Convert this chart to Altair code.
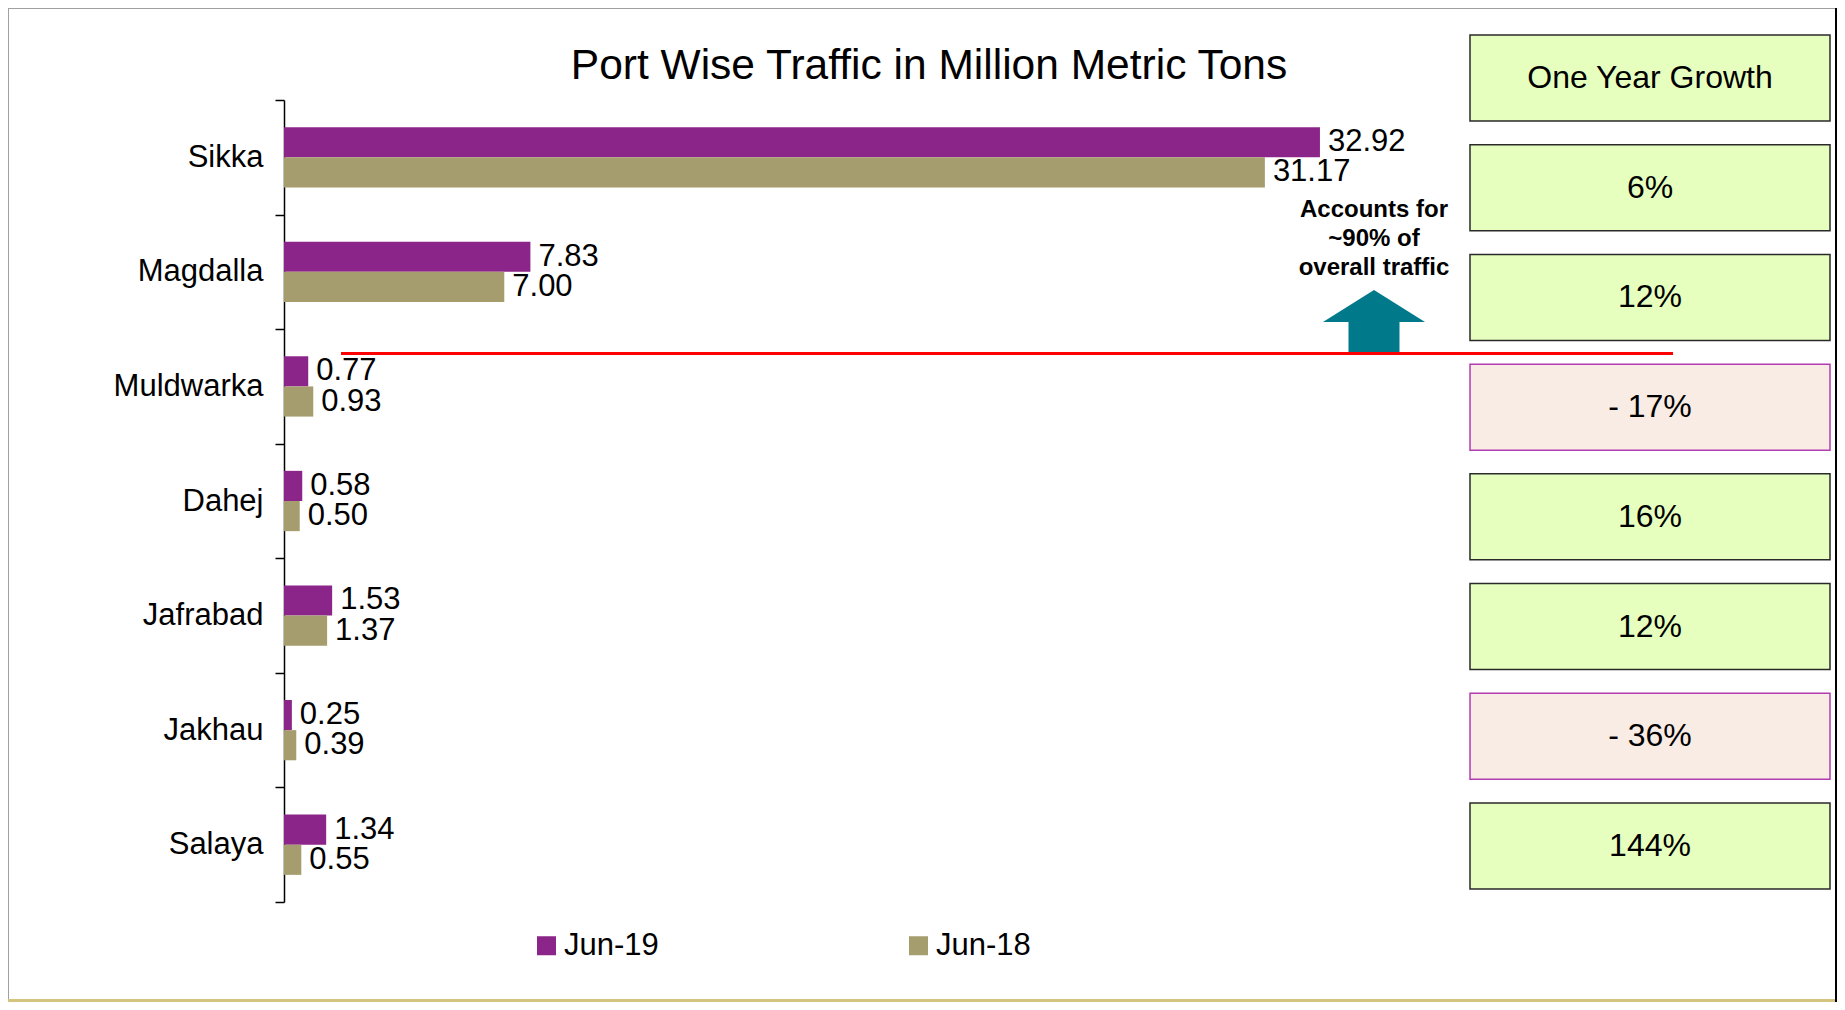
import altair as alt
import pandas as pd

# ---------------- data ----------------
ports = ["Sikka", "Magdalla", "Muldwarka", "Dahej", "Jafrabad", "Jakhau", "Salaya"]
jun19 = [32.92, 7.83, 0.77, 0.58, 1.53, 0.25, 1.34]
jun18 = [31.17, 7.00, 0.93, 0.50, 1.37, 0.39, 0.55]
series = ["Jun-19", "Jun-18"]
series_colors = ["#8C2589", "#A69D6E"]

growth_header = "One Year Growth"
growth_labels = ["6%", "12%", "- 17%", "16%", "12%", "- 36%", "144%"]
growth_trend = ["up", "up", "down", "up", "up", "down", "up"]

note_lines = ["Accounts for", "~90% of", "overall traffic"]
title_text = "Port Wise Traffic in Million Metric Tons"

bars_df = pd.DataFrame({
    "Port": ports * 2,
    "Series": [series[0]] * len(ports) + [series[1]] * len(ports),
    "Value": jun19 + jun18,
})
boxes_df = pd.DataFrame({
    "idx": list(range(len(growth_labels) + 1)),
    "label": [growth_header] + growth_labels,
    "trend": ["up"] + growth_trend,
})
dummy = pd.DataFrame({"d": [0]})
note_df = pd.DataFrame({"note": ["\n".join(note_lines)]})
title_df = pd.DataFrame({"title": [title_text]})

FONT = "Liberation Sans"

# ---------------- encodings ----------------
x_enc = alt.X("Value:Q", scale=alt.Scale(domain=[0, 49.16], nice=False, zero=True), axis=None)
y_scale = alt.Scale(domain=ports, paddingInner=0, paddingOuter=0)
yoff = alt.YOffset("Series:N", scale=alt.Scale(domain=series, paddingInner=0, paddingOuter=0.9))

bars = alt.Chart(bars_df).mark_bar().encode(
    x=x_enc,
    y=alt.Y("Port:N", scale=y_scale, sort=ports,
            axis=alt.Axis(title=None, tickBand="extent", domainColor="black", domainWidth=1.5,
                          tickColor="black", tickWidth=1.5, tickSize=9, labelFontSize=31,
                          labelColor="black", labelPadding=12, grid=False, labelFont=FONT)),
    yOffset=yoff,
    color=alt.Color("Series:N", scale=alt.Scale(domain=series, range=series_colors),
                    legend=alt.Legend(title=None, orient="none", legendX=247, legendY=830,
                                      direction="horizontal", symbolType="square", symbolSize=361,
                                      symbolStrokeWidth=0, labelFontSize=31, labelOffset=2,
                                      columnPadding=244, padding=0, labelFont=FONT,
                                      labelColor="black")),
)

labels = alt.Chart(bars_df).mark_text(align="left", baseline="middle", dx=8, fontSize=31,
                                      color="black", font=FONT).encode(
    x=x_enc,
    y=alt.Y("Port:N", scale=y_scale, sort=ports, axis=None),
    yOffset=yoff,
    text=alt.Text("Value:Q", format=".2f"),
)

box_y_scale = alt.Scale(domain=[0.2, 7.511], reverse=True, nice=False, zero=False)

boxes = alt.Chart(boxes_df).transform_calculate(
    lo="datum.idx - 0.392", hi="datum.idx + 0.392"
).mark_rect(strokeWidth=1.5).encode(
    x=alt.value(1186), x2=alt.value(1546),
    y=alt.Y("lo:Q", scale=box_y_scale, axis=None),
    y2="hi:Q",
    fill=alt.Fill("trend:N", scale=alt.Scale(domain=["up", "down"], range=["#E6FFBF", "#F9ECE4"]), legend=None),
    stroke=alt.Stroke("trend:N", scale=alt.Scale(domain=["up", "down"], range=["#2A2A2A", "#B23DB0"]), legend=None),
)

box_text = alt.Chart(boxes_df).mark_text(fontSize=32, baseline="middle", align="center",
                                         color="black", font=FONT).encode(
    x=alt.value(1366),
    y=alt.Y("idx:Q", scale=box_y_scale, axis=None),
    text="label:N",
)

arrow_path = "M 0 -0.618 L 1 0.01 L 0.5 0.01 L 0.5 0.618 L -0.5 0.618 L -0.5 0.01 L -1 0.01 Z"
arrow = alt.Chart(dummy).mark_point(shape=arrow_path, filled=True, size=10404, color="#007A8A",
                                    opacity=1, strokeWidth=0).encode(
    x=alt.value(1090), y=alt.value(221.5))

red_line = alt.Chart(dummy).mark_rule(color="#FF0000", strokeWidth=3).encode(
    x=alt.value(57), x2=alt.value(1389), y=alt.value(253.5))

note = alt.Chart(note_df).mark_text(lineBreak="\n", font=FONT, fontWeight="bold",
                                    fontSize=24, lineHeight=29, align="center", baseline="middle",
                                    color="black").encode(
    x=alt.value(1090), y=alt.value(109.5), text="note:N")

title = alt.Chart(title_df).mark_text(font=FONT, fontSize=42.5, align="center",
                                      baseline="alphabetic", color="black").encode(
    x=alt.value(645), y=alt.value(-21), text="title:N")

frame_top = alt.Chart(dummy).mark_rule(color="#A0A0A0", strokeWidth=1).encode(
    x=alt.value(-276), x2=alt.value(1553), y=alt.value(-91.5))
frame_left = alt.Chart(dummy).mark_rule(color="#A0A0A0", strokeWidth=1).encode(
    x=alt.value(-275.5), y=alt.value(-92), y2=alt.value(902))
frame_right = alt.Chart(dummy).mark_rule(color="#000000", strokeWidth=2).encode(
    x=alt.value(1552), y=alt.value(-92), y2=alt.value(902))
frame_bottom = alt.Chart(dummy).mark_rule(color="#D4C47E", strokeWidth=3).encode(
    x=alt.value(-276), x2=alt.value(1551), y=alt.value(900.5))

chart = alt.layer(
    frame_top, frame_left, frame_right, frame_bottom,
    boxes, box_text, bars, labels, arrow, red_line, note, title,
).resolve_scale(y="independent").properties(
    width=1547, height=802,
    autosize=alt.AutoSizeParams(type="none"),
    padding={"left": 276, "top": 92, "right": 6, "bottom": 100},
).configure(font=FONT).configure_view(stroke="transparent", strokeWidth=0)

chart.save("out.html", embed_options={"renderer": "svg", "actions": False})
